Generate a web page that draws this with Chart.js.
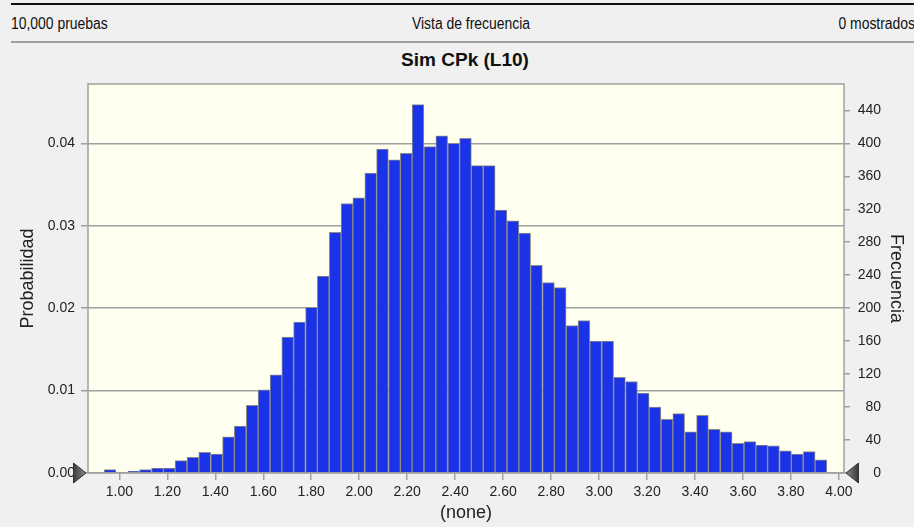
<!DOCTYPE html>
<html><head><meta charset="utf-8">
<script src="https://cdn.jsdelivr.net/npm/chart.js@4.4.1/dist/chart.umd.min.js"></script>
<style>
html,body{margin:0;padding:0;background:#f0f0f0;width:914px;height:527px;overflow:hidden;}
body{position:relative;font-family:"Liberation Sans",Arial,sans-serif;}
#c{position:absolute;left:0;top:0;}
.hdr{position:absolute;font-size:16px;line-height:16px;top:16px;color:#111;white-space:nowrap;}
#hl{left:11px;transform:scaleX(0.87);transform-origin:left center;}
#hc{left:471px;transform:translateX(-50%) scaleX(0.87);transform-origin:center center;}
#hr{right:-1px;transform:scaleX(0.87);transform-origin:right center;}
#topline{position:absolute;left:11px;right:0;top:3px;height:2px;background:#111;}
#midline{position:absolute;left:11px;right:0;top:41px;height:2px;background:#a0a0a0;}
#title{position:absolute;left:465px;top:49px;transform:translateX(-50%);font-weight:bold;font-size:19px;line-height:22px;color:#111;white-space:nowrap;}
</style></head><body>
<div id="topline"></div>
<div class="hdr" id="hl">10,000 pruebas</div>
<div class="hdr" id="hc">Vista de frecuencia</div>
<div class="hdr" id="hr">0 mostrados</div>
<div id="midline"></div>
<div id="title">Sim CPk (L10)</div>
<canvas id="c" width="914" height="527"></canvas>
<script>
// ---- data ----
const binCenters = [0.961,1.010,1.060,1.109,1.159,1.208,1.257,1.307,1.356,1.406,
  1.455,1.504,1.554,1.603,1.653,1.702,1.751,1.801,1.850,1.900,
  1.949,1.998,2.048,2.097,2.147,2.196,2.245,2.295,2.344,2.394,
  2.443,2.492,2.542,2.591,2.641,2.690,2.739,2.789,2.838,2.888,
  2.937,2.986,3.036,3.085,3.135,3.184,3.233,3.283,3.332,3.382,
  3.431,3.480,3.530,3.579,3.629,3.678,3.727,3.777,3.826,3.876,3.925];
const frequencies = [4,0,2,4,6,6,15,19,25,23,
  44,57,82,101,119,165,183,201,239,292,
  327,334,364,393,380,388,447,396,409,400,
  406,373,373,319,306,291,252,231,225,179,
  185,160,160,116,111,97,80,65,72,50,
  70,53,50,36,38,34,33,27,23,26,16];
const xTickValues = [1.0,1.2,1.4,1.6,1.8,2.0,2.2,2.4,2.6,2.8,3.0,3.2,3.4,3.6,3.8,4.0];
const probTickValues = [0,0.01,0.02,0.03,0.04];
const freqTickValues = [0,40,80,120,160,200,240,280,320,360,400,440];
const xRange = [0.8694, 4.021];
const probMax = 0.0472;
const freqMax = 472;

const FONT = '"Liberation Sans", Arial, sans-serif';
const GRID = '#a0a0a0';

const plotBg = {
  id:'plotBg',
  beforeDraw(chart){
    const {ctx, chartArea:a} = chart;
    ctx.save();
    ctx.fillStyle = '#fffff0';
    ctx.fillRect(a.left, a.top, a.right-a.left, a.bottom-a.top);
    ctx.restore();
  },
  afterDraw(chart){
    const {ctx, chartArea:a} = chart;
    ctx.save();
    ctx.strokeStyle = GRID;
    ctx.lineWidth = 1.5;
    ctx.strokeRect(a.left, a.top, a.right-a.left, a.bottom-a.top);
    // grabber triangles
    const yb = a.bottom;
    const grad1 = ctx.createLinearGradient(73,0,86,0);
    grad1.addColorStop(0,'#3a3a3a'); grad1.addColorStop(1,'#8a8a8a');
    ctx.fillStyle = grad1; ctx.strokeStyle = '#333'; ctx.lineWidth = 1;
    ctx.beginPath(); ctx.moveTo(73.5,yb-10); ctx.lineTo(86,yb); ctx.lineTo(73.5,yb+10); ctx.closePath(); ctx.fill(); ctx.stroke();
    const grad2 = ctx.createLinearGradient(846,0,858,0);
    grad2.addColorStop(0,'#8a8a8a'); grad2.addColorStop(1,'#3a3a3a');
    ctx.fillStyle = grad2;
    ctx.beginPath(); ctx.moveTo(858.5,yb-10); ctx.lineTo(846,yb); ctx.lineTo(858.5,yb+10); ctx.closePath(); ctx.fill(); ctx.stroke();
    ctx.restore();
  }
};

new Chart(document.getElementById('c'), {
  type:'bar',
  data:{
    datasets:[{
      data: binCenters.map((x,i)=>({x:x, y:frequencies[i]})),
      xAxisID:'x', yAxisID:'y2',
      backgroundColor:'#1b33e6',
      borderColor:'#8c8c8c',
      borderWidth:1,
      barPercentage:1, categoryPercentage:1
    }]
  },
  plugins:[plotBg],
  options:{
    responsive:false, animation:false, devicePixelRatio:1,
    layout:{padding:{top:84,left:0,right:33,bottom:0}},
    plugins:{legend:{display:false}, tooltip:{enabled:false}},
    scales:{
      x:{
        type:'linear', position:'bottom', min:xRange[0], max:xRange[1], offset:false,
        afterBuildTicks(s){ s.ticks = xTickValues.map(v=>({value:v})); },
        afterFit(s){ s.height = 54; },
        grid:{offset:false, drawOnChartArea:false, drawTicks:true, tickLength:7, color:GRID, lineWidth:1.5},
        border:{display:false},
        ticks:{autoSkip:false, maxRotation:0, padding:4, color:'#222', font:{family:FONT,size:14},
          callback:(v)=>Number(v).toFixed(2)},
        title:{display:true, text:'(none)', color:'#222', font:{family:FONT,size:18}, padding:{top:0,bottom:3}}
      },
      y:{
        type:'linear', position:'left', min:0, max:probMax,
        afterBuildTicks(s){ s.ticks = probTickValues.map(v=>({value:v})); },
        afterFit(s){ s.width = 88; },
        grid:{drawOnChartArea:true, drawTicks:true, tickLength:7, color:GRID, lineWidth:1.5},
        border:{display:false},
        ticks:{padding:6, color:'#222', font:{family:FONT,size:14}, callback:(v)=>Number(v).toFixed(2)},
        title:{display:true, text:'Probabilidad', color:'#222', font:{family:FONT,size:18}, padding:{top:17,bottom:0}}
      },
      y2:{
        type:'linear', position:'right', min:0, max:freqMax,
        afterBuildTicks(s){ s.ticks = freqTickValues.map(v=>({value:v})); },
        afterFit(s){ s.width = 37; },
        grid:{drawOnChartArea:false, drawTicks:true, tickLength:6, color:GRID, lineWidth:1.5},
        border:{display:false},
        ticks:{padding:9, crossAlign:'far', color:'#222', font:{family:FONT,size:14}},
        title:{display:true, text:'Frecuencia', color:'#222', font:{family:FONT,size:18}, padding:{top:-25.5,bottom:0}}
      }
    }
  }
});
</script>
</body></html>
